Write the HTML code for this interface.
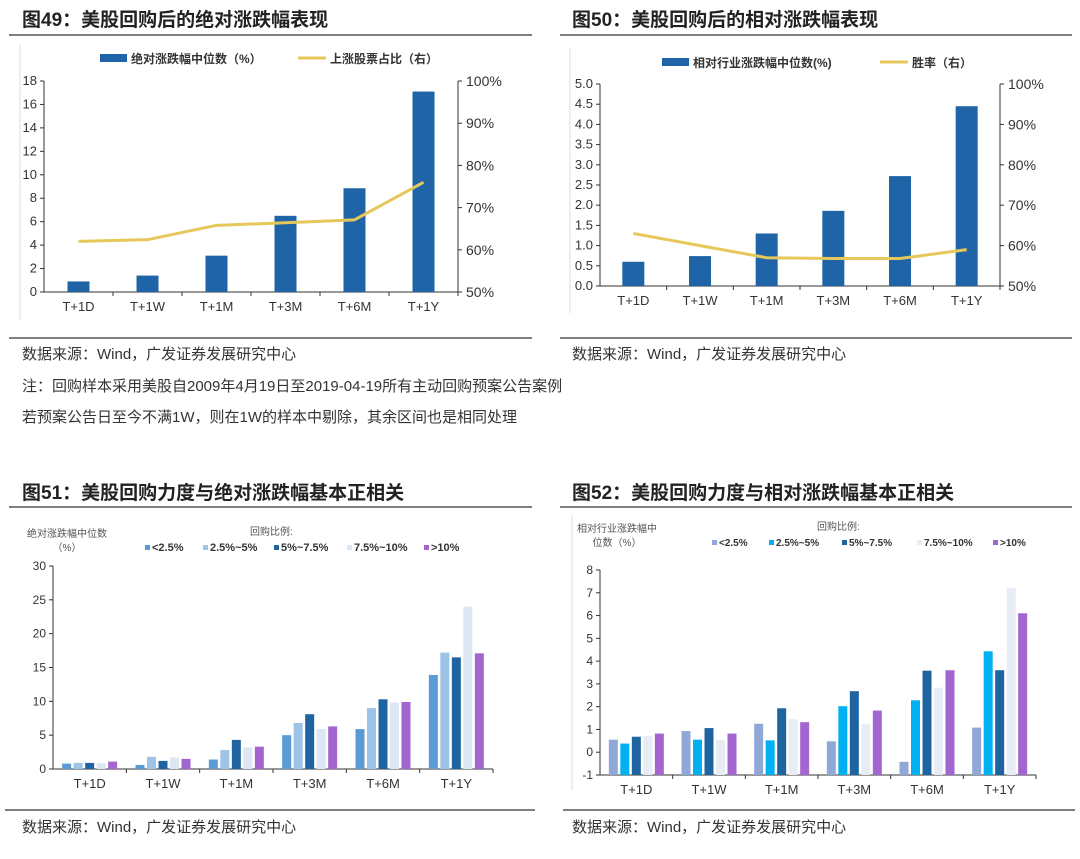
<!DOCTYPE html>
<html><head><meta charset="utf-8"><style>
body{margin:0;background:#fff;width:1080px;height:854px;overflow:hidden;font-family:"Liberation Sans","Noto Sans CJK SC",sans-serif;}
svg text{font-family:"Liberation Sans","Noto Sans CJK SC",sans-serif;}
</style></head><body>
<svg id="s" width="1080" height="854" viewBox="0 0 1080 854">
<g fill="#222">
<text x="22" y="26" font-size="19" font-weight="bold">图49：美股回购后的绝对涨跌幅表现</text>
<text x="572" y="26" font-size="19" font-weight="bold">图50：美股回购后的相对涨跌幅表现</text>
<text x="22" y="499" font-size="19" font-weight="bold">图51：美股回购力度与绝对涨跌幅基本正相关</text>
<text x="572" y="499" font-size="19" font-weight="bold">图52：美股回购力度与相对涨跌幅基本正相关</text>
<text x="22" y="359" font-size="15" fill="#333">数据来源：Wind，广发证券发展研究中心</text>
<text x="572" y="359" font-size="15" fill="#333">数据来源：Wind，广发证券发展研究中心</text>
<text x="22" y="391" font-size="15" fill="#333">注：回购样本采用美股自2009年4月19日至2019-04-19所有主动回购预案公告案例</text>
<text x="22" y="422" font-size="15" fill="#333">若预案公告日至今不满1W，则在1W的样本中剔除，其余区间也是相同处理</text>
<text x="22" y="832" font-size="15" fill="#333">数据来源：Wind，广发证券发展研究中心</text>
<text x="572" y="832" font-size="15" fill="#333">数据来源：Wind，广发证券发展研究中心</text>
</g>
<g stroke="#333" stroke-width="1.2">
<line x1="9" y1="35" x2="532" y2="35"/><line x1="560" y1="35" x2="1072" y2="35"/>
<line x1="9" y1="338" x2="532" y2="338"/><line x1="560" y1="338" x2="1072" y2="338"/>
<line x1="9" y1="507" x2="532" y2="507"/><line x1="560" y1="507" x2="1072" y2="507"/>
<line x1="5" y1="810" x2="535" y2="810"/><line x1="563" y1="810" x2="1075" y2="810"/>
</g>
<g stroke="#ddd">
<line x1="20" y1="44" x2="20" y2="320"/><line x1="570" y1="48" x2="570" y2="313"/><line x1="572" y1="515" x2="572" y2="790"/>
</g>
<g id="c49"></g>
<g id="c50"></g>
<g id="c51"></g>
<g id="c52"></g>
</svg>
<script>
const cats=["T+1D","T+1W","T+1M","T+3M","T+6M","T+1Y"];
const bars49=[0.9,1.4,3.1,6.5,8.85,17.1];
const line49=[62,62.4,65.8,66.4,67.1,76];
const ticks49=[0,2,4,6,8,10,12,14,16,18];
const rticks=[50,60,70,80,90,100];
const bars50=[0.6,0.74,1.3,1.86,2.72,4.45];
const line50=[63,60,57,56.8,56.8,59];
const ticks50=[0,0.5,1,1.5,2,2.5,3,3.5,4,4.5,5];
const groups=["<2.5%","2.5%~5%","5%~7.5%","7.5%~10%",">10%"];
const s51a=[0.8,0.6,1.4,5,5.9,13.9];
const s51b=[0.9,1.8,2.8,6.8,9,17.2];
const s51c=[0.9,1.2,4.3,8.1,10.3,16.5];
const s51d=[0.9,1.7,3.2,5.9,9.8,24];
const s51e=[1.1,1.5,3.3,6.3,9.9,17.1];
const ticks51=[0,5,10,15,20,25,30];
const s52a=[0.55,0.93,1.25,0.48,-0.42,1.08];
const s52b=[0.38,0.55,0.52,2.02,2.28,4.43];
const s52c=[0.68,1.06,1.93,2.68,3.58,3.6];
const s52d=[0.72,0.55,1.45,1.23,2.83,7.2];
const s52e=[0.82,0.82,1.32,1.83,3.6,6.1];
const ticks52=[-1,0,1,2,3,4,5,6,7,8];
const NS="http://www.w3.org/2000/svg";
function mk(p,t,a,txt){const e=document.createElementNS(NS,t);for(const k in a)e.setAttribute(k,a[k]);if(txt!==undefined)e.textContent=txt;p.appendChild(e);return e;}
function axes(g,x0,x1,yTop,yBot,ticks,fmt,fs){
  const lo=ticks[0],hi=ticks[ticks.length-1];
  const y=v=>yBot-(v-lo)/(hi-lo)*(yBot-yTop);
  const ax=mk(g,"line",{x1:x0,y1:yTop,x2:x0,y2:yBot,stroke:"#333"});
  
  
  const xl=mk(g,"line",{x1:x0,y1:yBot,x2:x1,y2:yBot,stroke:"#333"});
  
  
  ticks.forEach(t=>{mk(g,"line",{x1:x0-4,y1:y(t),x2:x0,y2:y(t),stroke:"#333"});
    const tx=mk(g,"text",{x:x0-7,y:y(t)+4,"font-size":fs,"text-anchor":"end",fill:"#333"},fmt(t));
    
    });
  const bw=(x1-x0)/cats.length;
  cats.forEach((c,i)=>{mk(g,"line",{x1:x0+bw*(i+1),y1:yBot,x2:x0+bw*(i+1),y2:yBot+4,stroke:"#333"});
    const tx=mk(g,"text",{x:x0+bw*(i+0.5),y:yBot+19,"font-size":13,"text-anchor":"middle",fill:"#333"},c);
    
    });
  return {y,bw,base:y(lo<0?lo:0)};
}
function combo(id,x0,x1,yTop,yBot,ticks,bars,line,fmt,lgBar,lgLine,lgX,lgLX,lgY){
  const g=document.getElementById(id);
  const A=axes(g,x0,x1,yTop,yBot,ticks,fmt,13);
  const ry=v=>yBot-(v-50)/50*(yBot-yTop);
  mk(g,"line",{x1:x1,y1:yTop,x2:x1,y2:yBot,stroke:"#333"});
  rticks.forEach(t=>{mk(g,"line",{x1:x1,y1:ry(t),x2:x1+4,y2:ry(t),stroke:"#333"});
    const tx=mk(g,"text",{x:x1+8,y:ry(t)+5,"font-size":14,fill:"#333"},t+"%");
    
    });
  bars.forEach((v,i)=>{const cx=x0+A.bw*(i+0.5);
    const r=mk(g,"rect",{x:cx-11,y:A.y(v),width:22,height:A.y(0)-A.y(v),fill:"#1f64a6"});
    
    });
  const pts=line.map((v,i)=>(x0+A.bw*(i+0.5))+","+ry(v)).join(" ");
  const pl=mk(g,"polyline",{points:pts,fill:"none",stroke:"#e6c85a","stroke-width":3,"stroke-linejoin":"round"});
  
  
  const l1=mk(g,"rect",{x:lgX,y:lgY-4,width:27,height:8,fill:"#1f64a6"});
  
  
  const t1=mk(g,"text",{x:lgX+31,y:lgY+5,"font-size":12,"font-weight":"bold",fill:"#333"},lgBar);
  
  
  const l2=mk(g,"line",{x1:lgLX,y1:lgY,x2:lgLX+28,y2:lgY,stroke:"#e6c85a","stroke-width":3});
  
  
  const t2=mk(g,"text",{x:lgLX+32,y:lgY+5,"font-size":12,"font-weight":"bold",fill:"#333"},lgLine);
  
  
}
combo("c49",44,458,81,292,ticks49,bars49,line49,t=>t,"绝对涨跌幅中位数（%）","上涨股票占比（右）",100,298,58);
combo("c50",600,1000,84,286,ticks50,bars50,line50,t=>t.toFixed(1),"相对行业涨跌幅中位数(%)","胜率（右）",662,880,62);
function grouped(id,x0,x1,yTop,yBot,ticks,series,colors,yt1,yt2,tx,lgx,lgy,bw,lfs){
  const g=document.getElementById(id);
  const A=axes(g,x0,x1,yTop,yBot,ticks,t=>t,12);
  series.forEach((s,k)=>s.forEach((v,i)=>{
    const cx=x0+A.bw*(i+0.5)+(k-2)*(bw+2.5);
    const r=mk(g,"rect",{x:cx-bw/2,y:A.y(v),width:bw,height:A.base-A.y(v),fill:colors[k]});
    
    }));
  const a=mk(g,"text",{x:tx,y:lgy-12,"font-size":10,fill:"#555","text-anchor":"middle"},yt1);
  
  
  const b=mk(g,"text",{x:tx,y:lgy+2,"font-size":10,fill:"#555","text-anchor":"middle"},yt2);
  
  
  const h=mk(g,"text",{x:lgx[0]+105,y:lgy-14,"font-size":10,fill:"#555"},"回购比例:");
  
  
  groups.forEach((n,k)=>{
    const r=mk(g,"rect",{x:lgx[k],y:lgy-4,width:5,height:5,fill:colors[k]});
    
    
    const t=mk(g,"text",{x:lgx[k]+7,y:lgy+2,"font-size":lfs,"font-weight":"bold",fill:"#333"},n);
    
    });
}
grouped("c51",53,493,566,769,ticks51,[s51a,s51b,s51c,s51d,s51e],["#5b9bd5","#9dc3e6","#1e64a0","#dde6f3","#a366d1"],"绝对涨跌幅中位数","（%）",67,[145,203,274,347,424],549,9,11);
grouped("c52",600,1036,570,775,ticks52,[s52a,s52b,s52c,s52d,s52e],["#8fa8d8","#00b0f0","#1e64a0","#e8ecf4","#a366d1"],"相对行业涨跌幅中","位数（%）",617,[712,769,842,917,993],544,9,10);
</script>
</body></html>
